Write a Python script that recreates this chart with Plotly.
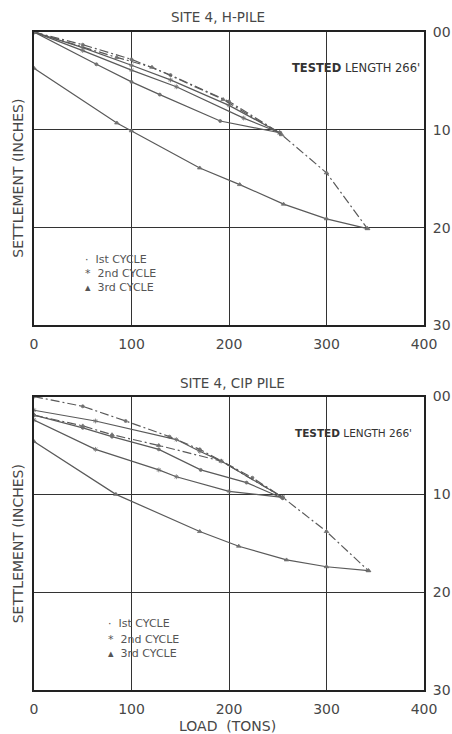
import plotly.graph_objects as go
from plotly.subplots import make_subplots

# ---- H-pile load test (load in tons, settlement in inches) ----
h_c1_load_x = [0, 50, 100, 140, 200, 252]
h_c1_load_y = [0, 1.3, 2.8, 4.4, 7.1, 10.3]
h_c1_unload_x = [252, 191, 129, 100, 64, 0]
h_c1_unload_y = [10.3, 9.1, 6.4, 5.1, 3.3, 0]
h_c2_load_x = [0, 50, 100, 140, 200, 252]
h_c2_load_y = [0, 1.6, 3.4, 4.9, 7.5, 10.3]
h_c2_unload_x = [252, 215, 146, 100, 50, 0]
h_c2_unload_y = [10.3, 8.8, 5.6, 3.9, 1.9, 0]
h_c3_load_x = [0, 85, 121, 194, 254, 300, 342]
h_c3_load_y = [0, 2.6, 3.6, 6.9, 10.5, 14.4, 20.1]
h_c3_unload_x = [342, 300, 256, 211, 170, 100, 85, 0]
h_c3_unload_y = [20.1, 19.1, 17.6, 15.6, 13.9, 10.1, 9.3, 3.7]

# ---- CIP pile load test ----
c_c1_load_x = [0, 50, 94, 139, 170, 224, 255]
c_c1_load_y = [0, 1.0, 2.5, 4.1, 5.4, 8.3, 10.3]
c_c1_unload_x = [255, 218, 171, 128, 80, 50, 0]
c_c1_unload_y = [10.4, 8.8, 7.5, 5.4, 4.1, 3.2, 1.9]
c_c2_load_x = [0, 63, 146, 170, 192, 255]
c_c2_load_y = [1.4, 2.5, 4.4, 5.6, 6.6, 10.3]
c_c2_unload_x = [255, 200, 146, 128, 63, 0]
c_c2_unload_y = [10.3, 9.7, 8.2, 7.5, 5.4, 2.4]
c_c3_load_x = [0, 50, 80, 128, 192, 255, 300, 343]
c_c3_load_y = [1.9, 3.0, 3.9, 5.0, 6.6, 10.3, 13.8, 17.8]
c_c3_unload_x = [343, 300, 259, 210, 170, 84, 0]
c_c3_unload_y = [17.8, 17.4, 16.7, 15.3, 13.8, 10.0, 4.6]

load_ticks = [0, 100, 200, 300, 400]
settle_ticks = [0, 10, 20, 30]
settle_labels = ["00", "10", "20", "30"]
cycle_names = ["Ist CYCLE", "2nd CYCLE", "3rd CYCLE"]
cycle_glyphs = ["\u00b7", "*", "\u25b4"]

INK = "#5a5a5a"
TEXT = "#474747"
FONT = "DejaVu Sans"
DASHDOT = "9px,3px,2px,3px"

cycle_marker = [
    dict(symbol="circle", size=3),
    dict(symbol="asterisk-open", size=4),
    dict(symbol="triangle-up", size=4),
]

fig = make_subplots(rows=2, cols=1, vertical_spacing=0.108)

def add_curve(x, y, cyc, dash, row):
    mk = cycle_marker[cyc]
    fig.add_trace(go.Scatter(
        x=x, y=y, mode="lines+markers", showlegend=False,
        line=dict(color=INK, width=1.2, dash=dash),
        marker=dict(symbol=mk["symbol"], size=mk["size"], color="#707070",
                    line=dict(color="#707070", width=0.8)),
        hoverinfo="skip"), row=row, col=1)

h_sets = [
    (h_c1_load_x, h_c1_load_y, 0, DASHDOT), (h_c1_unload_x, h_c1_unload_y, 0, "solid"),
    (h_c2_load_x, h_c2_load_y, 1, "solid"), (h_c2_unload_x, h_c2_unload_y, 1, "solid"),
    (h_c3_load_x, h_c3_load_y, 2, DASHDOT), (h_c3_unload_x, h_c3_unload_y, 2, "solid"),
]
c_sets = [
    (c_c1_load_x, c_c1_load_y, 0, DASHDOT), (c_c1_unload_x, c_c1_unload_y, 0, "solid"),
    (c_c2_load_x, c_c2_load_y, 1, "solid"), (c_c2_unload_x, c_c2_unload_y, 1, "solid"),
    (c_c3_load_x, c_c3_load_y, 2, DASHDOT), (c_c3_unload_x, c_c3_unload_y, 2, "solid"),
]
for x, y, cyc, dash in h_sets:
    add_curve(x, y, cyc, dash, 1)
for x, y, cyc, dash in c_sets:
    add_curve(x, y, cyc, dash, 2)

axis_common = dict(
    showline=True, linecolor="#222222", linewidth=2, mirror=True,
    showgrid=True, gridcolor="#333333", gridwidth=1.4, zeroline=False,
    automargin=False,
    tickfont=dict(family=FONT, size=14, color=TEXT),
)
for r in (1, 2):
    fig.update_xaxes(range=[0, 400], tickvals=load_ticks, ticks="",
                     ticklabelstandoff=5, row=r, col=1, **axis_common)
    fig.update_yaxes(range=[30, 0], tickvals=settle_ticks, ticktext=settle_labels,
                     side="right", ticks="", ticklabelstandoff=4,
                     row=r, col=1, **axis_common)

fig.update_layout(
    width=452, height=734,
    margin=dict(l=34, r=28, t=32, b=44),
    paper_bgcolor="white", plot_bgcolor="white",
    font=dict(family=FONT, color=TEXT),
    showlegend=False,
)

ann = dict(showarrow=False, xref="paper", yref="paper", yanchor="middle")
fig.add_annotation(text="SITE 4, H-PILE", x=0.473, y=1.0228, xanchor="center",
                   font=dict(size=13.5, color=TEXT), **ann)
fig.add_annotation(text="SITE 4, CIP PILE", x=0.508, y=0.4666, xanchor="center",
                   font=dict(size=13.5, color=TEXT), **ann)
for yy in (0.777, 0.2215):
    fig.add_annotation(text="SETTLEMENT (INCHES)", x=-0.041, y=yy, textangle=-90,
                       xanchor="center", font=dict(size=14, color=TEXT), **ann)
fig.add_annotation(text="LOAD  (TONS)", x=0.495, y=-0.0547, xanchor="center",
                   font=dict(size=14, color=TEXT), **ann)
for xx, yy, fs in ((0.656, 0.945, 11.5), (0.664, 0.3906, 10.5)):
    fig.add_annotation(text="<b>TESTED</b> LENGTH 266'", x=xx, y=yy, xanchor="left",
                       font=dict(size=fs, color="#333333"), **ann)

# cycle keys, one row per cycle in each panel
legend_rows = [
    (0.125, [0.655, 0.6337, 0.611]),
    (0.185, [0.1018, 0.0775, 0.0562]),
]
for lx, ys in legend_rows:
    for glyph, name, yy in zip(cycle_glyphs, cycle_names, ys):
        fig.add_annotation(text=f"{glyph}  {name}", x=lx, y=yy, xanchor="left",
                           font=dict(size=11, color="#555555"), **ann)

fig.write_html("out.html")
